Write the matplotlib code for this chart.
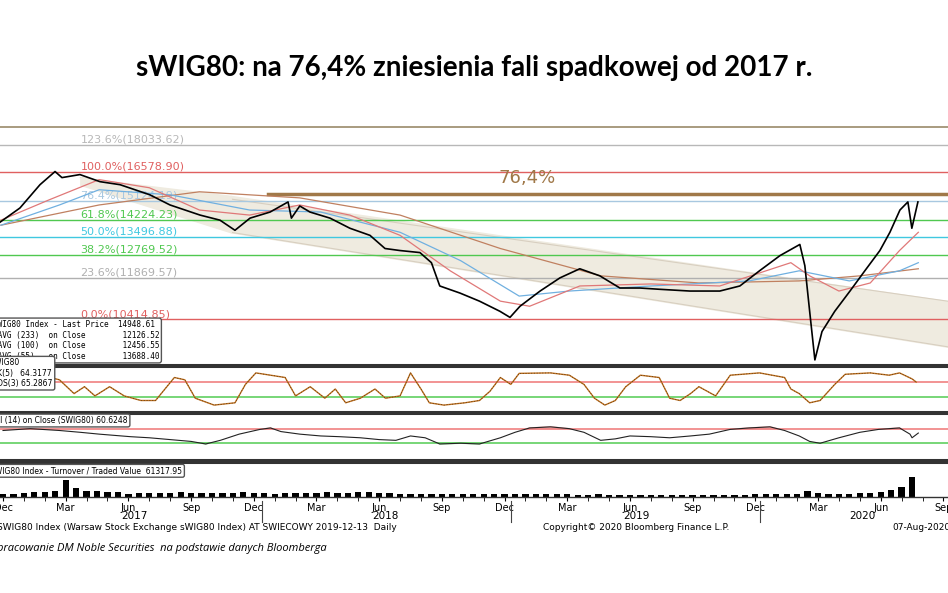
#! /usr/bin/env python3

"""sWIG80 chart with Fibonacci retracement, stochastic, RSI and turnover panels."""

import numpy as np
import matplotlib.pyplot as plt

# months counted from Dec 2016 (0 = Dec 2016)
price_t = [-0.14, 0.81, 1.77, 2.49, 2.82, 3.68, 4.64, 5.6, 7.03, 7.99, 9.43,
           10.38, 11.1, 11.82, 12.78, 13.64, 13.8, 14.2, 14.69, 15.65, 16.6,
           17.56, 18.28, 19.0, 19.95, 20.5, 20.9, 21.87, 22.8, 23.78, 24.26,
           24.74, 25.7, 26.65, 27.6, 28.56, 29.52, 30.48, 31.4, 32.87, 34.3,
           35.26, 36.2, 37.18, 38.13, 38.37, 38.6, 38.85, 39.19, 39.8, 40.53,
           41.24, 41.96, 42.44, 42.92, 43.3, 43.49, 43.78]
price = [14139, 14783, 15907, 16579, 16265, 16421, 16059, 15907, 15408, 14925,
         14457, 14229, 13783, 14319, 14596, 15067, 14319, 14877, 14596, 14319,
         13871, 13565, 13015, 12932, 12850, 12448, 11569, 11313, 11030, 10683,
         10481, 10855, 11386, 11867, 12212, 11943, 11495, 11495, 11450, 11386,
         11386, 11569, 12134, 12728, 13182, 12329, 10683, 9169, 10024, 10683,
         11386, 12134, 12932, 13696, 14689, 15067, 13871, 15067]

ma55_t = [-0.1, 2.2, 4.6, 7.0, 9.4, 11.8, 14.2, 16.6, 19.0, 21.4, 23.8, 25.2,
          27.6, 31.0, 34.3, 37.7, 38.6, 40.0, 41.5, 42.9, 43.8]
ma55 = [14229, 15164, 16162, 15755, 14689, 14457, 14925, 14457, 13565, 12134,
        11030, 10855, 11569, 11643, 11569, 12448, 11943, 11386, 11679, 12932,
        13696]
ma100_t = [-0.1, 2.7, 4.6, 8.0, 11.8, 15.2, 19.0, 21.9, 24.7, 27.1, 31.0,
           35.7, 38.1, 40.5, 42.9, 43.8]
ma100 = [14004, 14925, 15656, 15408, 14689, 14596, 13696, 12527, 11207, 11386,
         11569, 11754, 12134, 11754, 12134, 12448]
ma233_t = [-0.1, 4.6, 9.4, 14.2, 19.0, 23.8, 28.6, 33.3, 38.1, 41.0, 43.8]
ma233 = [14004, 14925, 15556, 15261, 14457, 13015, 11943, 11679, 11754, 11943,
         12212]

fib_pct = ['123.6%', '100.0%', '76.4%', '61.8%', '50.0%', '38.2%', '23.6%', '0.0%']
fib_val = [18033.62, 16578.90, 15124.19, 14224.23, 13496.88, 12769.52, 11869.57, 10414.85]
fib_col = ['#b8b8b8', '#e06060', '#a8c8e0', '#50c850', '#40c8e0', '#50c850', '#b0b0b0', '#e06060']

level_764 = 15458
chan_upper_t, chan_upper = [3.7, 45.2], [16265, 11030]
chan_lower_t, chan_lower = [10.9, 45.2], [13696, 9556]

stoch_t = [0, 1.8, 2.7, 3.4, 3.9, 4.4, 5.1, 5.8, 6.6, 7.3, 8.2, 8.7, 9.2, 10.1,
           11.1, 11.6, 12.1, 12.8, 13.5, 14.0, 14.7, 15.4, 15.9, 16.4, 17.1,
           17.8, 18.3, 19.0, 19.5, 20.0, 20.4, 21.1, 22.1, 22.8, 23.3, 23.8,
           24.3, 24.7, 26.2, 27.1, 27.8, 28.3, 28.8, 29.3, 29.8, 30.5, 31.4,
           31.9, 32.4, 32.9, 33.3, 34.1, 34.8, 36.2, 37.4, 37.7, 38.1, 38.6,
           39.1, 39.8, 40.3, 41.5, 42.4, 42.9, 43.5, 43.7]
stoch = [75, 80, 70, 40, 55, 35, 55, 35, 25, 25, 75, 70, 30, 15, 20, 60, 85,
         80, 75, 35, 55, 30, 50, 20, 30, 50, 30, 35, 85, 50, 20, 15, 20, 25,
         45, 75, 60, 84, 85, 80, 60, 30, 15, 25, 55, 80, 75, 30, 25, 40, 55,
         35, 80, 85, 75, 50, 40, 20, 25, 60, 82, 85, 80, 85, 72, 65]

rsi_t = [0, 1.3, 2.7, 3.7, 4.6, 6.1, 7.0, 8.0, 9.0, 9.7, 10.4, 11.3, 12.3,
         12.8, 13.3, 14.2, 15.2, 16.1, 17.1, 18.0, 18.8, 19.5, 20.2, 20.9,
         21.9, 22.8, 23.8, 24.5, 25.2, 26.2, 27.1, 27.8, 28.6, 29.3, 30.0,
         31.0, 31.9, 32.9, 33.8, 34.8, 35.7, 36.7, 37.4, 38.1, 38.6, 39.1,
         40.0, 41.0, 41.9, 42.9, 43.4, 43.5, 43.8]
rsi = [65, 70, 65, 60, 55, 48, 45, 40, 35, 28, 38, 55, 68, 72, 62, 55, 50, 48,
       45, 40, 38, 50, 45, 28, 30, 28, 45, 60, 72, 75, 70, 60, 38, 42, 50, 48,
       45, 50, 55, 68, 72, 75, 65, 50, 35, 30, 45, 60, 68, 72, 55, 45, 58]

turnover = [8, 10, 12, 14, 15, 18, 48, 25, 18, 16, 15, 14, 10, 11, 12, 11, 12,
            13, 12, 11, 12, 11, 12, 13, 12, 11, 10, 11, 12, 11, 12, 13, 12, 11,
            13, 14, 12, 11, 10, 9, 10, 9, 8, 9, 10, 9, 8, 8, 9, 10, 9, 8, 9, 8,
            8, 7, 7, 8, 7, 7, 6, 7, 6, 6, 5, 6, 6, 5, 6, 7, 6, 7, 8, 8, 9, 8,
            10, 16, 12, 10, 9, 10, 11, 12, 14, 20, 30, 57]

month_labels = ['Dec', 'Mar', 'Jun', 'Sep'] * 4
year_labels = ['2017', '2018', '2019', '2020']
year_pos = [6.3, 18.3, 30.3, 41.1]
year_sep = [12.4, 24.3, 36.2]

W, H = 948, 593
XLIM = (-0.144, 45.22)


def panel(fig, top, bottom):
    """Axes spanning full width between two pixel rows."""
    ax = fig.add_axes([0, 1 - bottom / H, 1, (bottom - top) / H])
    ax.set_xlim(*XLIM)
    ax.set_xticks([])
    ax.set_yticks([])
    for s in ('left', 'right'):
        ax.spines[s].set_visible(False)
    for s in ('top', 'bottom'):
        ax.spines[s].set_linewidth(2.2)
        ax.spines[s].set_color('#333333')
    return ax


def main():
    fig = plt.figure(figsize=(W / 100, H / 100), dpi=100)
    fig.text(0.5, 1 - 68 / H, 'sWIG80: na 76,4% zniesienia fali spadkowej od 2017 r.',
             ha='center', va='center', fontsize=20, fontweight='bold',
             family='Lato')

    # main price panel
    ax = panel(fig, 127, 365)
    ax.spines['top'].set_linewidth(1.2)
    ax.spines['top'].set_color('#9a8a6a')
    ax.set_yscale('log')
    ax.set_ylim(9024, 19070)
    ax.set_yticks([], minor=True)
    ax.fill_between(chan_lower_t, np.interp(chan_lower_t, chan_upper_t, chan_upper),
                    chan_lower, color='#efebe0', zorder=0)
    ax.plot(chan_upper_t, chan_upper, color='#d8cfc0', lw=0.8, zorder=0)
    ax.plot(chan_lower_t, chan_lower, color='#d8cfc0', lw=0.8, zorder=0)
    ax.fill_between([3.7, 10.9], [16265, np.interp(10.9, chan_upper_t, chan_upper)],
                    [15900, 13696], color='#efebe0', zorder=0)
    for pct, val, col in zip(fib_pct, fib_val, fib_col):
        ax.axhline(val, color=col, lw=1, zorder=1)
        ax.text(3.7, val * 1.001, f'{pct}({val:.2f})', color=col, fontsize=8,
                va='bottom', zorder=1)
    ax.plot([12.7, 46], [level_764, level_764], color='#a07848', lw=2.5, zorder=2)
    ax.text(25.1, 16230, '76,4%', color='#a07848', fontsize=13, ha='center',
            va='center')
    ax.plot(ma233_t, ma233, color='#c08060', lw=0.9)
    ax.plot(ma100_t, ma100, color='#70b0e0', lw=0.9)
    ax.plot(ma55_t, ma55, color='#e07878', lw=0.9)
    ax.plot(price_t, price, color='black', lw=1.2)
    legend = ['SWIG80 Index - Last Price  14948.61',
              'MAVG (233)  on Close        12126.52',
              'MAVG (100)  on Close        12456.55',
              'MAVG (55)   on Close        13688.40']
    ax.text(-0.5, 9150, '\n'.join(legend), fontsize=5.6, family='DejaVu Sans Mono',
            va='bottom', bbox=dict(fc='white', ec='#555555', boxstyle='round,pad=0.3'))

    # stochastic
    ax2 = panel(fig, 366, 412)
    ax2.set_ylim(0, 100)
    ax2.axhline(65, color='#f08080', lw=1.2)
    ax2.axhline(33, color='#60d060', lw=1.2)
    ax2.plot(stoch_t, stoch, color='#c07020', lw=1)
    ax2.plot(stoch_t, stoch, color='#403010', lw=0.4, ls=(0, (2, 3)))
    ax2.text(-0.6, 52, 'sWIG80\n%K(5)   64.3177\n%DS(3) 65.2867', fontsize=5.5,
             va='bottom', bbox=dict(fc='white', ec='#555555', boxstyle='round,pad=0.25'))

    # RSI
    ax3 = panel(fig, 413, 460)
    ax3.set_ylim(-16, 113)
    ax3.axhline(70, color='#f08080', lw=1.2)
    ax3.axhline(30, color='#60d060', lw=1.2)
    rt = np.array(rsi_t)
    rv = np.array(rsi)
    ax3.fill_between(rt, rv, 70, where=rv > 70, color='#f4b0b0', interpolate=True)
    ax3.fill_between(rt, rv, 30, where=rv < 30, color='#a0e0a0', interpolate=True)
    ax3.plot(rsi_t, rsi, color='#222222', lw=0.8)
    ax3.text(-0.6, 80, 'RSI (14) on Close (SWIG80) 60.6248', fontsize=5.5,
             va='bottom', bbox=dict(fc='white', ec='#555555', boxstyle='round,pad=0.25'))

    # turnover
    ax4 = panel(fig, 462, 497)
    ax4.spines['bottom'].set_linewidth(1)
    ax4.set_ylim(0, 100)
    vt = np.arange(len(turnover)) * 0.5
    ax4.bar(vt, turnover, width=0.3, color='black')
    ax4.text(-0.6, 62, 'SWIG80 Index - Turnover / Traded Value  61317.95',
             fontsize=5.5, va='bottom',
             bbox=dict(fc='white', ec='#555555', boxstyle='round,pad=0.25'))
    ax4.set_xticks(np.arange(0, 48, 3))
    ax4.set_xticklabels(month_labels, fontsize=7)
    ax4.set_xticks(np.arange(0, 46, 1), minor=True)
    ax4.tick_params(axis='x', which='both', direction='out', length=3, pad=1)

    for x, lab in zip(year_pos, year_labels):
        ax4.text(x, -54, lab, fontsize=7.5, ha='center', va='center', clip_on=False)
    for x in year_sep:
        ax4.plot([x, x], [-10, -72], color='#444444', lw=0.8, clip_on=False)

    fig.text(-0.003, 1 - 528 / H,
             'SWIG80 Index (Warsaw Stock Exchange sWIG80 Index) AT SWIECOWY 2019-12-13  Daily',
             fontsize=6.5, va='center')
    fig.text(543 / W, 1 - 528 / H, 'Copyright\u00a9 2020 Bloomberg Finance L.P.',
             fontsize=6.5, va='center')
    fig.text(1.003, 1 - 528 / H, '07-Aug-2020', fontsize=6.5, va='center', ha='right')
    fig.text(-0.012, 1 - 548 / H,
             'Opracowanie DM Noble Securities  na podstawie danych Bloomberga',
             fontsize=8, style='italic', va='center', family='Open Sans')

    fig.savefig('out.png', dpi=100)


if __name__ == '__main__':
    main()
